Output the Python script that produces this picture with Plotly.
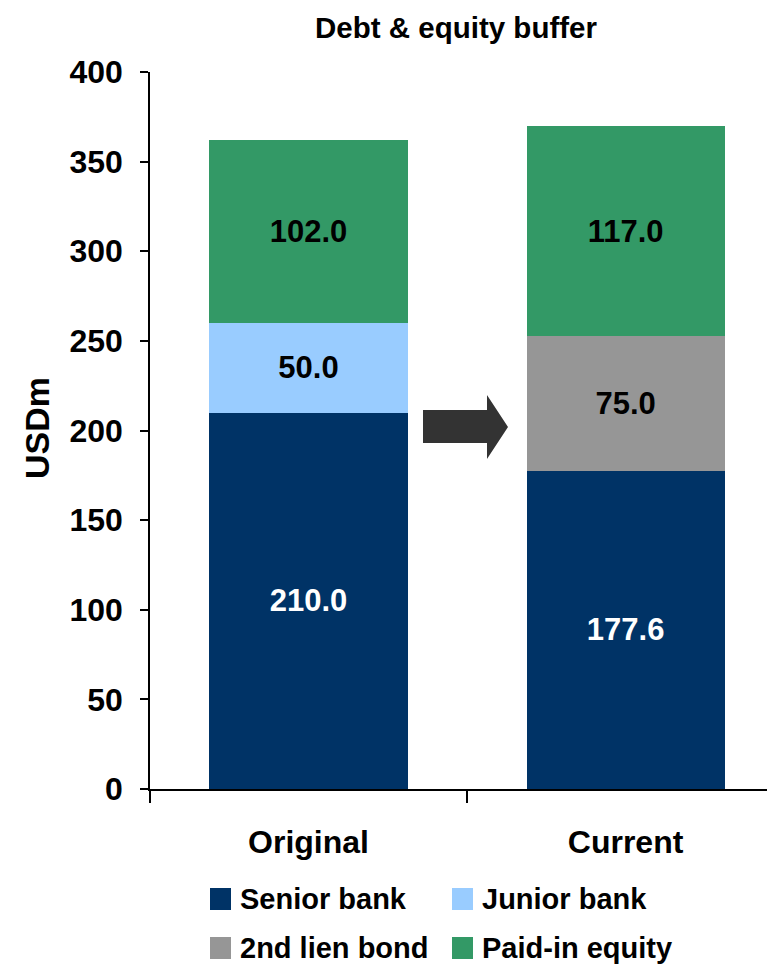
import plotly.graph_objects as go

# Capital structure before and after the restructuring (USD m)
categories = ["Original", "Current"]
senior_bank = [210.0, 177.6]
junior_bank = [50.0, None]
second_lien_bond = [None, 75.0]
paid_in_equity = [102.0, 117.0]

series_names = ["Senior bank", "Junior bank", "2nd lien bond", "Paid-in equity"]
series_values = [senior_bank, junior_bank, second_lien_bond, paid_in_equity]
series_colors = ["#003366", "#99CCFF", "#969696", "#339966"]
label_colors = ["white", "black", "black", "black"]

FONT = "Liberation Sans, Arial, Helvetica, sans-serif"
W, H = 767, 964
L, R, T, B = 150, 0, 72, 175
PW, PH = W - L - R, H - T - B


def px(x):
    return (x - L) / PW


def py(y):
    return (H - B - y) / PH


fig = go.Figure()
for name, vals, col, lc in zip(series_names, series_values, series_colors, label_colors):
    fig.add_trace(go.Bar(
        x=categories, y=vals, name=name,
        marker=dict(color=col, line=dict(width=0)),
        texttemplate="%{y:.1f}", textposition="inside", insidetextanchor="middle",
        textangle=0, constraintext="none",
        textfont=dict(family=FONT, size=31, color=lc, weight="bold"),
        showlegend=False, hoverinfo="skip",
    ))

# Arrow between the two bars
arrow = [(423, 410), (487, 410), (487, 395), (508, 427), (487, 459), (487, 443), (423, 443)]
path = "M " + " L ".join(f"{px(x):.5f},{py(y):.5f}" for x, y in arrow) + " Z"
fig.add_shape(type="path", path=path, xref="paper", yref="paper",
              fillcolor="#333333", line=dict(width=0), layer="above")

# Legend laid out in two columns
legend_pos = [(210, 888), (452, 888), (210, 937), (452, 937)]
for (sx, sy), name, col in zip(legend_pos, series_names, series_colors):
    fig.add_shape(type="rect", xref="paper", yref="paper",
                  x0=px(sx), x1=px(sx + 21), y0=py(sy + 22), y1=py(sy),
                  fillcolor=col, line=dict(width=0))
    fig.add_annotation(xref="paper", yref="paper", x=px(sx + 28), y=py(sy + 11),
                       text=name, showarrow=False, xanchor="left", yanchor="middle",
                       font=dict(family=FONT, size=29, color="black", weight="bold"))

# Vertical axis title
fig.add_annotation(xref="paper", yref="paper", x=px(37), y=py(428), text="USDm",
                   textangle=-90, showarrow=False, xanchor="center", yanchor="middle",
                   font=dict(family=FONT, size=34, color="black", weight="bold"))

fig.update_layout(
    width=W, height=H,
    margin=dict(l=L, r=R, t=T, b=B),
    barmode="stack", bargap=0.375,
    plot_bgcolor="white", paper_bgcolor="white",
    font=dict(family=FONT, color="black"),
    title=dict(text="Debt & equity buffer", x=px(456), xref="paper", xanchor="center",
               y=1 - 28 / H, yref="container", yanchor="middle",
               font=dict(family=FONT, size=29.5, color="black", weight="bold")),
    xaxis=dict(type="category", range=[-0.5, 1.446], showline=True, linecolor="black",
               linewidth=1.5, ticks="outside", tickson="boundaries", ticklen=12,
               tickcolor="black", tickwidth=1.5, showgrid=False, ticklabelstandoff=24,
               tickfont=dict(family=FONT, size=32, color="black", weight="bold")),
    yaxis=dict(range=[0, 400], dtick=50, showline=True, linecolor="black", linewidth=1.5,
               ticks="outside", ticklen=8, tickcolor="black", tickwidth=1.5,
               showgrid=False, zeroline=False, ticklabelstandoff=11,
               tickfont=dict(family=FONT, size=32, color="black", weight="bold")),
)

fig.write_html("out.html")
